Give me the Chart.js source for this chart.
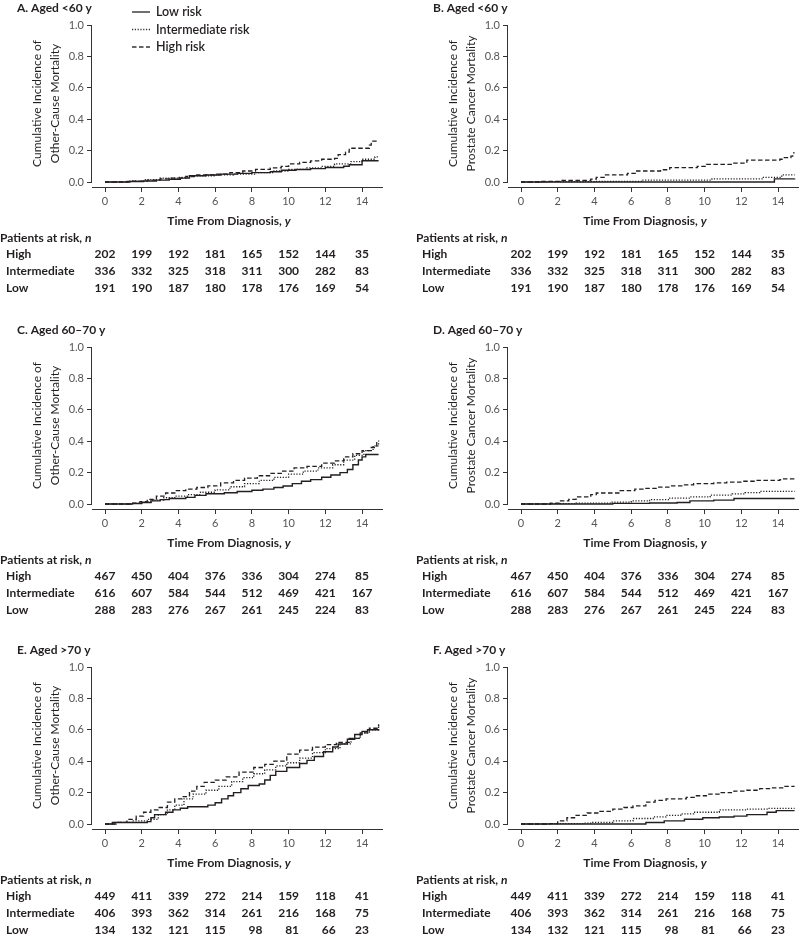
<!DOCTYPE html>
<html>
<head>
<meta charset="utf-8">
<script src="https://cdn.jsdelivr.net/npm/chart.js@4.4.0/dist/chart.umd.min.js"></script>
<style>
  body { margin: 0; background: #fff; }
  #page { position: relative; width: 800px; height: 937px; overflow: hidden; }
  canvas { position: absolute; }
</style>
</head>
<body>
<div id="page">
  <canvas id="pA" width="384" height="295" style="left:0;top:0"></canvas>
  <canvas id="pB" width="384" height="295" style="left:416px;top:0"></canvas>
  <canvas id="pC" width="384" height="295" style="left:0;top:322px"></canvas>
  <canvas id="pD" width="384" height="295" style="left:416px;top:322px"></canvas>
  <canvas id="pE" width="384" height="295" style="left:0;top:642px"></canvas>
  <canvas id="pF" width="384" height="295" style="left:416px;top:642px"></canvas>
</div>
<script>
// Cumulative incidence curves, [years, incidence]
const timeTicks = [0, 2, 4, 6, 8, 10, 12, 14];
const incTicks = [0, 0.2, 0.4, 0.6, 0.8, 1.0];

// A. other-cause mortality, aged <60
const ocmYoungLow = [[0,0],[1.2,0.003],[2.1,0.006],[2.8,0.012],[3.5,0.018],[4.1,0.025],[4.6,0.04],[5.5,0.045],[6.3,0.05],[7.2,0.055],[8,0.06],[9,0.065],[9.6,0.075],[10.4,0.08],[11.2,0.085],[12,0.092],[13,0.1],[13.3,0.11],[14,0.135],[14.9,0.135]];
const ocmYoungInt = [[0,0],[1.3,0.006],[2.2,0.015],[3,0.025],[4,0.03],[4.6,0.04],[6,0.045],[7,0.05],[8.2,0.06],[9.2,0.07],[10,0.08],[11,0.09],[11.8,0.1],[12.5,0.115],[13.4,0.13],[14,0.145],[14.7,0.16],[14.9,0.165]];
const ocmYoungHigh = [[0,0],[1.5,0.005],[2.3,0.012],[3,0.02],[3.6,0.025],[4.4,0.035],[5,0.045],[6,0.05],[6.8,0.06],[7.5,0.07],[8.2,0.08],[9,0.09],[9.6,0.1],[10,0.115],[10.6,0.125],[11.2,0.135],[11.8,0.145],[12.5,0.15],[12.7,0.175],[13.1,0.19],[13.3,0.215],[14.4,0.235],[14.5,0.26],[14.9,0.26]];

// B. prostate cancer mortality, aged <60
const pcmYoungLow = [[0,0],[13.7,0],[13.8,0.02],[14.9,0.022]];
const pcmYoungInt = [[0,0],[1.5,0.002],[4,0.004],[6.6,0.012],[10.4,0.02],[13.2,0.03],[14.2,0.045],[14.9,0.045]];
const pcmYoungHigh = [[0,0],[1,0.004],[2.2,0.01],[3.8,0.018],[4.1,0.03],[4.6,0.045],[5.8,0.055],[6.3,0.07],[7.6,0.078],[8.1,0.092],[9.6,0.1],[10.1,0.112],[11.5,0.12],[12.3,0.14],[14.1,0.145],[14.3,0.155],[14.7,0.165],[14.8,0.185],[14.9,0.185]];

// C. other-cause mortality, aged 60-70
const ocmMidLow = [[0,0],[1.5,0.003],[2,0.01],[2.5,0.02],[3,0.028],[3.5,0.035],[4.4,0.042],[4.9,0.055],[5.5,0.065],[6.5,0.072],[7.2,0.08],[8,0.088],[8.6,0.095],[9.2,0.105],[9.7,0.115],[10.2,0.13],[10.7,0.145],[11.2,0.155],[11.8,0.17],[12.3,0.185],[12.8,0.2],[13.2,0.22],[13.5,0.25],[13.8,0.28],[14,0.3],[14.2,0.315],[14.9,0.315]];
const ocmMidInt = [[0,0],[1.5,0.004],[2,0.012],[2.6,0.025],[3.2,0.04],[3.8,0.05],[4.5,0.06],[5.2,0.075],[6,0.09],[6.8,0.11],[7.6,0.13],[8.4,0.15],[9.2,0.17],[10,0.19],[10.8,0.21],[11.6,0.23],[12.4,0.25],[13,0.28],[13.6,0.31],[14.1,0.34],[14.6,0.37],[14.9,0.39]];
const ocmMidHigh = [[0,0],[1.4,0.006],[1.9,0.015],[2.3,0.03],[2.8,0.05],[3.3,0.07],[3.8,0.085],[4.4,0.095],[5,0.105],[5.6,0.115],[6.3,0.135],[7,0.15],[7.6,0.165],[8.3,0.18],[9,0.195],[9.6,0.21],[10.3,0.23],[11,0.24],[11.8,0.26],[12.5,0.275],[13,0.3],[13.5,0.32],[14,0.34],[14.5,0.36],[14.8,0.39],[14.9,0.405]];

// D. prostate cancer mortality, aged 60-70
const pcmMidLow = [[0,0],[4.8,0],[5,0.004],[7,0.006],[8.5,0.01],[9.2,0.02],[10.5,0.025],[11.6,0.035],[14.9,0.035]];
const pcmMidInt = [[0,0],[1.6,0.002],[3,0.006],[4.9,0.012],[6,0.02],[7,0.028],[8.1,0.038],[9.2,0.045],[10.3,0.057],[11.5,0.065],[12.2,0.072],[13,0.08],[14.9,0.08]];
const pcmMidHigh = [[0,0],[1.6,0.005],[2.1,0.02],[2.6,0.03],[3,0.045],[3.8,0.06],[4.1,0.07],[5.4,0.085],[6.2,0.095],[6.7,0.1],[7.5,0.108],[8.1,0.115],[8.8,0.122],[9.4,0.13],[10.5,0.135],[11.2,0.14],[12.1,0.145],[12.8,0.15],[14.1,0.155],[14.3,0.16],[14.9,0.16]];

// E. other-cause mortality, aged >70
const ocmOldLow = [[0,0],[0.4,0.01],[2.3,0.015],[2.5,0.04],[2.7,0.06],[3.3,0.075],[3.7,0.09],[4.1,0.1],[4.5,0.11],[5.6,0.12],[6,0.135],[6.35,0.16],[6.7,0.18],[7,0.2],[7.4,0.225],[7.8,0.245],[8.4,0.255],[8.7,0.28],[9,0.31],[9.3,0.335],[9.9,0.36],[10.6,0.385],[11,0.405],[11.4,0.43],[11.9,0.46],[12.4,0.49],[12.7,0.51],[13.2,0.54],[13.6,0.57],[14,0.59],[14.3,0.6],[14.9,0.605]];
const ocmOldInt = [[0,0],[0.5,0.01],[1.5,0.02],[2.3,0.03],[2.9,0.06],[3.4,0.09],[3.8,0.12],[4.3,0.16],[4.8,0.19],[5.5,0.215],[6.2,0.24],[6.9,0.27],[7.5,0.295],[8.1,0.32],[8.7,0.345],[9.3,0.37],[9.9,0.39],[10.6,0.42],[11.3,0.455],[12,0.48],[12.8,0.51],[13.4,0.545],[13.9,0.58],[14.4,0.6],[14.9,0.63]];
const ocmOldHigh = [[0,0],[0.6,0.01],[1.2,0.03],[1.7,0.05],[2.1,0.075],[2.5,0.09],[2.9,0.105],[3.4,0.14],[3.8,0.16],[4.2,0.175],[4.6,0.21],[5,0.24],[5.4,0.265],[6,0.28],[6.6,0.3],[7.3,0.33],[8.1,0.36],[8.7,0.38],[9.2,0.4],[9.9,0.445],[10.6,0.47],[11.3,0.49],[12,0.505],[12.6,0.52],[13.3,0.545],[13.9,0.58],[14.4,0.61],[14.9,0.635]];

// F. prostate cancer mortality, aged >70
const pcmOldLow = [[0,0],[6.5,0],[6.8,0.01],[7.8,0.02],[8.9,0.03],[9.9,0.04],[10.8,0.045],[11.6,0.05],[12.3,0.06],[13.4,0.075],[13.9,0.085],[14.9,0.085]];
const pcmOldInt = [[0,0],[1.6,0.003],[3.4,0.006],[3.9,0.01],[5,0.02],[6.1,0.035],[7.2,0.045],[7.9,0.055],[8.7,0.065],[9.4,0.075],[10.8,0.09],[12.3,0.095],[13.4,0.1],[14.9,0.1]];
const pcmOldHigh = [[0,0],[1.4,0.002],[2,0.02],[2.5,0.04],[3,0.055],[3.6,0.07],[4.3,0.08],[5,0.095],[5.6,0.105],[6.1,0.115],[6.8,0.14],[7.3,0.15],[7.9,0.16],[9,0.17],[9.5,0.18],[10.1,0.19],[10.9,0.2],[11.6,0.21],[12.3,0.215],[13,0.225],[13.7,0.23],[14.3,0.24],[14.9,0.24]];

// Patients at risk at each time tick
const riskYoungHigh = [202, 199, 192, 181, 165, 152, 144, 35];
const riskYoungInt = [336, 332, 325, 318, 311, 300, 282, 83];
const riskYoungLow = [191, 190, 187, 180, 178, 176, 169, 54];
const riskMidHigh = [467, 450, 404, 376, 336, 304, 274, 85];
const riskMidInt = [616, 607, 584, 544, 512, 469, 421, 167];
const riskMidLow = [288, 283, 276, 267, 261, 245, 224, 83];
const riskOldHigh = [449, 411, 339, 272, 214, 159, 118, 41];
const riskOldInt = [406, 393, 362, 314, 261, 216, 168, 75];
const riskOldLow = [134, 132, 121, 115, 98, 81, 66, 23];

const FONT = 'Lato, "Open Sans", sans-serif';
const INK = '#231f20';

const lineStyles = {
    low: { borderWidth: 1.4, borderDash: [] },
    int: { borderWidth: 1.3, borderDash: [1.2, 1.6] },
    high: { borderWidth: 1.3, borderDash: [4.5, 2.5] }
};

function curve(points, kind) {
    return {
        data: points.map(p => ({ x: p[0], y: p[1] })),
        stepped: true,
        borderColor: INK,
        borderWidth: lineStyles[kind].borderWidth,
        borderDash: lineStyles[kind].borderDash,
        pointRadius: 0,
        fill: false
    };
}

// draws "plain text + italic letter"
function mixedText(ctx, plain, ital, x, y, align) {
    ctx.font = 'bold 12px ' + FONT;
    const w1 = ctx.measureText(plain).width;
    ctx.font = 'italic bold 12px ' + FONT;
    const w2 = ctx.measureText(ital).width;
    let left = align === 'center' ? x - (w1 + w2) / 2 : x;
    ctx.textAlign = 'left';
    ctx.font = 'bold 12px ' + FONT;
    ctx.fillText(plain, left, y);
    ctx.font = 'italic bold 12px ' + FONT;
    ctx.fillText(ital, left + w1, y);
}

const panelDecor = {
    id: 'panelDecor',
    afterDraw(chart, args, opts) {
        const ctx = chart.ctx;
        const xs = chart.scales.x, ys = chart.scales.y;
        const area = chart.chartArea;
        ctx.save();

        // axis lines (y axis only spans 0..1, x axis is offset below 0)
        ctx.strokeStyle = '#333';
        ctx.lineWidth = 1;
        ctx.beginPath();
        const ax = Math.round(area.left) - 0.5;
        ctx.moveTo(ax, ys.getPixelForValue(1));
        ctx.lineTo(ax, ys.getPixelForValue(0));
        const ay = Math.round(area.bottom) + 0.5;
        ctx.moveTo(area.left, ay);
        ctx.lineTo(area.right, ay);
        ctx.stroke();

        ctx.fillStyle = INK;
        ctx.textBaseline = 'middle';

        // panel title
        ctx.font = 'bold 12px ' + FONT;
        ctx.textAlign = 'left';
        ctx.fillText(opts.title, 17, 8);

        // y axis title, two lines
        const midY = (ys.getPixelForValue(0) + ys.getPixelForValue(1)) / 2;
        ctx.font = '12px ' + FONT;
        ctx.textAlign = 'center';
        [37, 55].forEach((lx, i) => {
            ctx.save();
            ctx.translate(lx, midY);
            ctx.rotate(-Math.PI / 2);
            ctx.fillText(opts.yTitle[i], 0, 0);
            ctx.restore();
        });

        // x axis title
        mixedText(ctx, 'Time From Diagnosis, ', 'y', xs.getPixelForValue(6.75), 221, 'center');

        // risk table
        mixedText(ctx, 'Patients at risk, ', 'n', 0, 238, 'left');
        const rows = [['High', opts.risk[0]], ['Intermediate', opts.risk[1]], ['Low', opts.risk[2]]];
        ctx.font = 'bold 12px ' + FONT;
        const halfW = ctx.measureText('000').width / 2;
        rows.forEach((row, r) => {
            const ry = 254 + r * 17;
            ctx.textAlign = 'left';
            ctx.fillText(row[0], 6, ry);
            row[1].forEach((n, c) => {
                const px = xs.getPixelForValue(timeTicks[c]);
                if (c < timeTicks.length - 1) {
                    ctx.textAlign = 'right';
                    ctx.fillText(String(n), px + halfW, ry);
                } else {
                    ctx.textAlign = 'center';
                    ctx.fillText(String(n), px, ry);
                }
            });
        });

        // legend, only on the first panel
        if (opts.legend) {
            const items = [['Low risk', 'low'], ['Intermediate risk', 'int'], ['High risk', 'high']];
            items.forEach((it, i) => {
                const ly = 12 + i * 17.5;
                ctx.beginPath();
                ctx.lineWidth = lineStyles[it[1]].borderWidth;
                ctx.setLineDash(lineStyles[it[1]].borderDash);
                ctx.moveTo(132, ly);
                ctx.lineTo(150, ly);
                ctx.stroke();
                ctx.setLineDash([]);
                ctx.font = '600 12.5px ' + FONT;
                ctx.textAlign = 'left';
                ctx.fillText(it[0], 156, ly);
            });
        }
        ctx.restore();
    }
};

function makePanel(id, title, yTitle, curves, risk, legend) {
    new Chart(document.getElementById(id), {
        type: 'line',
        data: {
            datasets: [
                curve(curves[0], 'low'),
                curve(curves[1], 'int'),
                curve(curves[2], 'high')
            ]
        },
        options: {
            responsive: false,
            animation: false,
            layout: { padding: { top: 25, right: 1, left: 0, bottom: 0 } },
            plugins: {
                legend: { display: false },
                tooltip: { enabled: false },
                panelDecor: { title: title, yTitle: yTitle, risk: risk, legend: legend }
            },
            scales: {
                x: {
                    type: 'linear',
                    min: -0.708,
                    max: 15.14,
                    afterBuildTicks: s => { s.ticks = timeTicks.map(v => ({ value: v })); },
                    afterFit: s => { s.height = 108; },
                    border: { display: false },
                    grid: { drawOnChartArea: false, drawTicks: true, tickLength: 5, color: '#333' },
                    ticks: { font: { family: FONT, size: 11 }, color: '#555', padding: 3, maxRotation: 0, autoSkip: false }
                },
                y: {
                    type: 'linear',
                    min: -0.0318,
                    max: 1,
                    afterBuildTicks: s => { s.ticks = incTicks.map(v => ({ value: v })); },
                    afterFit: s => { s.width = 92; },
                    border: { display: false },
                    grid: { drawOnChartArea: false, drawTicks: true, tickLength: 5, color: '#333' },
                    ticks: { font: { family: FONT, size: 11 }, color: '#555', padding: 3, callback: v => v.toFixed(1) }
                }
            }
        },
        plugins: [panelDecor]
    });
}

const ocmTitle = ['Cumulative Incidence of', 'Other-Cause Mortality'];
const pcmTitle = ['Cumulative Incidence of', 'Prostate Cancer Mortality'];

makePanel('pA', 'A. Aged <60 y', ocmTitle, [ocmYoungLow, ocmYoungInt, ocmYoungHigh], [riskYoungHigh, riskYoungInt, riskYoungLow], true);
makePanel('pB', 'B. Aged <60 y', pcmTitle, [pcmYoungLow, pcmYoungInt, pcmYoungHigh], [riskYoungHigh, riskYoungInt, riskYoungLow], false);
makePanel('pC', 'C. Aged 60\u201370 y', ocmTitle, [ocmMidLow, ocmMidInt, ocmMidHigh], [riskMidHigh, riskMidInt, riskMidLow], false);
makePanel('pD', 'D. Aged 60\u201370 y', pcmTitle, [pcmMidLow, pcmMidInt, pcmMidHigh], [riskMidHigh, riskMidInt, riskMidLow], false);
makePanel('pE', 'E. Aged >70 y', ocmTitle, [ocmOldLow, ocmOldInt, ocmOldHigh], [riskOldHigh, riskOldInt, riskOldLow], false);
makePanel('pF', 'F. Aged >70 y', pcmTitle, [pcmOldLow, pcmOldInt, pcmOldHigh], [riskOldHigh, riskOldInt, riskOldLow], false);
</script>
</body>
</html>
